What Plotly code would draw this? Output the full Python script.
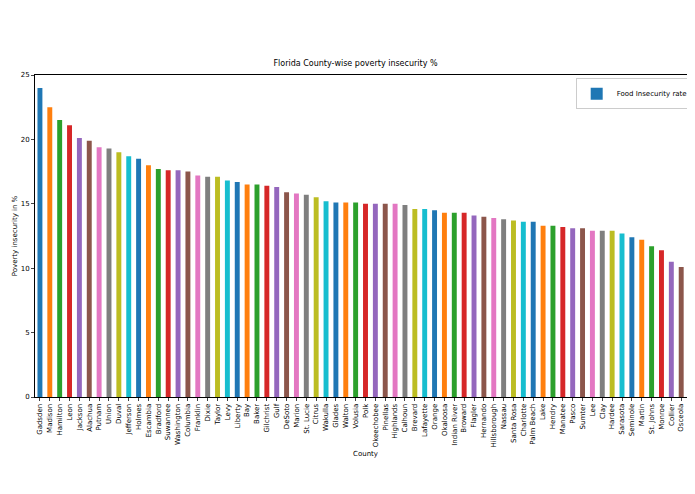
import plotly.graph_objects as go

counties = ["Gadsden","Madison","Hamilton","Leon","Jackson","Alachua","Putnam","Union","Duval","Jefferson",
"Holmes","Escambia","Bradford","Suwannee","Washington","Columbia","Franklin","Dixie","Taylor","Levy",
"Liberty","Bay","Baker","Gilchrist","Gulf","DeSoto","Marion","St. Lucie","Citrus","Wakulla",
"Glades","Walton","Volusia","Polk","Okeechobee","Pinellas","Highlands","Calhoun","Brevard","Lafayette",
"Orange","Okaloosa","Indian River","Broward","Flagler","Hernando","Hillsborough","Nassau","Santa Rosa","Charlotte",
"Palm Beach","Lake","Hendry","Manatee","Pasco","Sumter","Lee","Clay","Hardee","Sarasota",
"Seminole","Martin","St. Johns","Monroe","Collier","Osceola","Miami-Dade"]
rates = [24.0,22.5,21.5,21.1,20.1,19.9,19.4,19.3,19.0,18.7,
18.5,18.0,17.7,17.6,17.6,17.5,17.2,17.1,17.1,16.8,
16.7,16.5,16.5,16.4,16.3,15.9,15.8,15.7,15.5,15.2,
15.1,15.1,15.1,15.0,15.0,15.0,15.0,14.9,14.6,14.6,
14.5,14.3,14.3,14.3,14.1,14.0,13.9,13.8,13.7,13.6,
13.6,13.3,13.3,13.2,13.1,13.1,12.9,12.9,12.9,12.7,
12.4,12.2,11.7,11.4,10.5,10.1,9.1]
palette = ["#1f77b4","#ff7f0e","#2ca02c","#d62728","#9467bd","#8c564b","#e377c2","#7f7f7f","#bcbd22","#17becf"]
colors = [palette[i % 10] for i in range(len(counties))]

fig = go.Figure(go.Bar(x=counties, y=rates, marker=dict(color=colors, line_width=0),
                       width=0.5, name="Food Insecurity rate", showlegend=True))
fig.add_trace(go.Bar(x=[None], y=[None], marker_color="#1f77b4", name="Food Insecurity rate",
                     showlegend=False))
fig.update_layout(
    width=695, height=494, paper_bgcolor="white", plot_bgcolor="white",
    margin=dict(l=24, r=6, t=67, b=105),
    font=dict(family="DejaVu Sans", size=7, color="black"),
    title=dict(text="Florida County-wise poverty insecurity %", x=0.5, xanchor="center",
               y=1 - 55/494, yanchor="middle", font=dict(size=8)),
    showlegend=True,
    legend=dict(x=0.995, y=0.99, xanchor="right", yanchor="top", bordercolor="#cccccc",
                borderwidth=1, font=dict(size=7), itemsizing="constant"),
    bargap=0.5,
)
fig.update_xaxes(title=dict(text="County", font=dict(size=7), standoff=4), tickangle=-90,
                 showline=True, mirror=True, linecolor="black", linewidth=1,
                 ticks="outside", ticklen=3, tickfont=dict(size=7), range=[-0.5, 66.5])
fig.update_yaxes(title=dict(text="Poverty insecurity in %", font=dict(size=7), standoff=2),
                 range=[0, 25], tickvals=[0,5,10,15,20,25], showgrid=False,
                 showline=True, mirror=True, linecolor="black", linewidth=1,
                 ticks="outside", ticklen=3, tickfont=dict(size=7), zeroline=False)
fig.write_html("out.html")
